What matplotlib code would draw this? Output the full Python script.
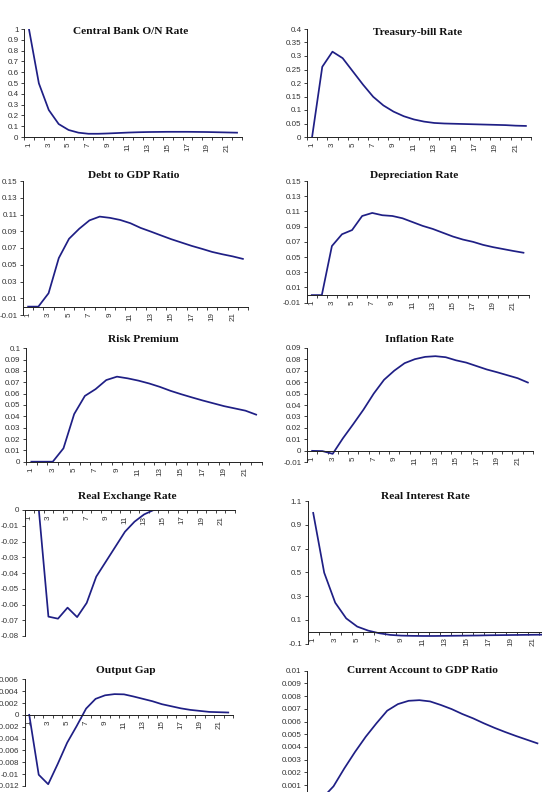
import numpy as np
import matplotlib
matplotlib.use("Agg")
import matplotlib.pyplot as plt
from matplotlib.ticker import FixedLocator, NullFormatter, FixedFormatter

# ---------------- data ----------------
periods = list(range(1, 23))
tick_labels = [str(p) for p in range(1, 22, 2)]

central_bank_rate = [1.0, 0.497, 0.25, 0.12, 0.065, 0.04, 0.03, 0.03, 0.033, 0.037, 0.041,
                     0.044, 0.046, 0.047, 0.048, 0.048, 0.048, 0.047, 0.046, 0.044, 0.042, 0.04]
tbill_rate = [0.0, 0.26, 0.316, 0.292, 0.243, 0.194, 0.149, 0.117, 0.094, 0.077, 0.065,
              0.057, 0.052, 0.05, 0.049, 0.048, 0.047, 0.046, 0.045, 0.044, 0.042, 0.041]
debt_gdp = [0.0, 0.0, 0.016, 0.058, 0.081, 0.093, 0.103, 0.1075, 0.106, 0.1035, 0.0996,
            0.094, 0.0896, 0.085, 0.0805, 0.0765, 0.0725, 0.069, 0.0653, 0.0625, 0.06, 0.057]
depreciation = [0.0, 0.0, 0.0645, 0.08, 0.0855, 0.104, 0.108, 0.105, 0.104, 0.101, 0.096,
                0.091, 0.087, 0.082, 0.077, 0.073, 0.07, 0.066, 0.063, 0.0605, 0.058, 0.0557]
risk_premium = [0.0, 0.0, 0.0, 0.0118, 0.042, 0.058, 0.064, 0.072, 0.075, 0.0735, 0.0715,
                0.069, 0.066, 0.0625, 0.0595, 0.0567, 0.054, 0.0515, 0.049, 0.047, 0.045, 0.0415]
inflation = [0.0, -0.0002, -0.0026, 0.011, 0.0233, 0.036, 0.05, 0.062, 0.07, 0.0765, 0.08,
             0.082, 0.0826, 0.0817, 0.079, 0.077, 0.074, 0.071, 0.0686, 0.066, 0.0634, 0.0596]
real_exchange = [0.0, 0.0, -0.0677, -0.069, -0.062, -0.068, -0.059, -0.0423, -0.0328, -0.0233,
                 -0.0138, -0.0074, -0.0028, 0.0, 0.002, 0.004, 0.005, 0.006, 0.006, 0.006, 0.006, 0.006]
real_interest = [1.0, 0.497, 0.245, 0.113, 0.044, 0.01, -0.012, -0.026, -0.032, -0.034, -0.035,
                 -0.035, -0.034, -0.033, -0.032, -0.031, -0.029, -0.028, -0.027, -0.026, -0.025, -0.024]
output_gap = [0.0, -0.0101, -0.0117, -0.0083, -0.0047, -0.0019, 0.00106, 0.0027, 0.0033, 0.0035,
              0.00346, 0.0031, 0.0027, 0.0023, 0.0018, 0.00145, 0.0011, 0.00084, 0.00067, 0.0005,
              0.00045, 0.0004]
current_account = [0.0, 0.0, 0.0009, 0.0023, 0.0036, 0.0048, 0.00586, 0.00685, 0.00737, 0.00763,
                   0.00768, 0.00758, 0.0073, 0.00698, 0.00659, 0.00625, 0.00586, 0.0055, 0.00517,
                   0.00486, 0.00457, 0.00428]

titles = ["Central Bank O/N Rate", "Treasury-bill Rate", "Debt to GDP Ratio", "Depreciation Rate",
          "Risk Premium", "Inflation Rate", "Real Exchange Rate", "Real Interest Rate",
          "Output Gap", "Current Account to GDP Ratio"]

# ---------------- layout ----------------
W, H = 542, 792
fig = plt.figure(figsize=(W / 100, H / 100), dpi=100)
fig.patch.set_facecolor("white")

LINE = "#1F1F85"
TICKFONT = dict(family="Liberation Sans", size=5.8)


def fmt(v):
    r = round(float(v), 6) + 0.0
    if abs(r) < 1e-12:
        return "0"
    return f"{r:g}"


def panel(rect, vals, ylim, yticks, title, title_xy):
    x0, x1, ytop, ybot = rect
    ax = fig.add_axes([x0 / W, 1 - ybot / H, (x1 - x0) / W, (ybot - ytop) / H])
    ax.plot(periods, vals, color=LINE, lw=1.25, solid_joinstyle="round")
    ax.set_xlim(0.5, 22.5)
    ax.set_ylim(*ylim)
    for s in ["top", "right"]:
        ax.spines[s].set_visible(False)
    ax.spines["bottom"].set_position(("data", 0))
    for s in ["left", "bottom"]:
        ax.spines[s].set_linewidth(0.7)
        ax.spines[s].set_color("#222222")
    ax.patch.set_visible(False)
    # y axis
    ax.yaxis.set_major_locator(FixedLocator(yticks))
    ax.yaxis.set_major_formatter(FixedFormatter([fmt(v) for v in yticks]))
    ax.tick_params(axis="y", which="major", direction="out", length=2.5, width=0.6,
                   pad=1.5, colors="#222222", labelcolor="#333333")
    for lb in ax.get_yticklabels():
        lb.set_fontfamily(TICKFONT["family"])
        lb.set_fontsize(TICKFONT["size"])
    # x axis: ticks between categories, labels at odd categories
    ax.xaxis.set_major_locator(FixedLocator(np.arange(0.5, 23, 1.0)))
    ax.xaxis.set_major_formatter(NullFormatter())
    ax.xaxis.set_minor_locator(FixedLocator(range(1, 22, 2)))
    ax.xaxis.set_minor_formatter(FixedFormatter(tick_labels))
    ax.tick_params(axis="x", which="major", direction="out", length=2.5, width=0.6,
                   colors="#222222")
    ax.tick_params(axis="x", which="minor", length=0, pad=4, labelrotation=90,
                   labelcolor="#333333")
    for lb in ax.xaxis.get_minorticklabels():
        lb.set_fontfamily(TICKFONT["family"])
        lb.set_fontsize(TICKFONT["size"])
        lb.set_verticalalignment("top")
    fig.text(title_xy[0] / W, 1 - title_xy[1] / H, title, ha="center", va="center",
             family="Liberation Serif", fontweight="bold", fontsize=8.2, color="#111111")
    return ax


panel((24, 242, 29, 137), central_bank_rate, (0, 1.0), np.arange(0, 1.01, 0.1),
      titles[0], (131, 31.7))
panel((307, 531, 29, 137), tbill_rate, (0, 0.4), np.arange(0, 0.401, 0.05),
      titles[1], (417.7, 32.3))
panel((23, 248, 181, 315), debt_gdp, (-0.01, 0.15), np.arange(-0.01, 0.151, 0.02),
      titles[2], (133.3, 175.7))
panel((306.7, 528.5, 181, 302.7), depreciation, (-0.01, 0.15), np.arange(-0.01, 0.151, 0.02),
      titles[3], (414.3, 175.7))
panel((26, 261.5, 348.3, 461.7), risk_premium, (0, 0.1), np.arange(0, 0.1001, 0.01),
      titles[4], (143.3, 339.3))
panel((307, 533, 347.7, 462.3), inflation, (-0.01, 0.09), np.arange(-0.01, 0.0901, 0.01),
      titles[5], (419.3, 339.3))
panel((24.5, 235, 510, 636), real_exchange, (-0.08, 0), np.arange(-0.08, 0.0001, 0.01),
      titles[6], (127.7, 496.7))
panel((307.7, 549.7, 501, 643.7), real_interest, (-0.1, 1.1), np.arange(-0.1, 1.101, 0.2),
      titles[7], (425.3, 496.7))
panel((24.5, 233, 679.3, 786), output_gap, (-0.012, 0.006), np.arange(-0.012, 0.00601, 0.002),
      titles[8], (125.7, 670.7))
panel((306.7, 542.8, 670.7, 797.7), current_account, (0, 0.01), np.arange(0, 0.01001, 0.001),
      titles[9], (422.7, 670.7))

fig.savefig("out.png", dpi=100, facecolor="white")
